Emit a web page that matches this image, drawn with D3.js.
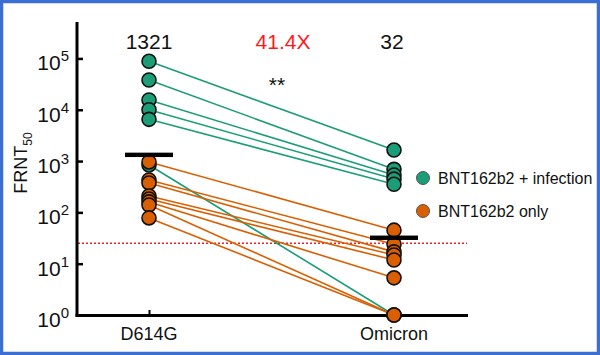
<!DOCTYPE html>
<html><head><meta charset="utf-8">
<script src="https://cdn.jsdelivr.net/npm/d3@7"></script>
<style>
html,body{margin:0;padding:0;background:#fff;}
svg{display:block;font-family:"Liberation Sans",Arial,sans-serif;}
</style></head>
<body><svg id="c" width="600" height="355"></svg>
<script>
const categories = ["D614G", "Omicron"];
const groups = ["BNT162b2 + infection", "BNT162b2 only"];
// paired titers (D614G -> Omicron)
const infD614G = [88000, 38000, 15500, 10000, 6500, 840];
const infOmicron = [1640, 690, 535, 445, 353, 1];
const onlyD614G = [960, 428, 374, 209, 182, 160, 139, 78];
const onlyOmicron = [45, 24, 17, 14.8, 11.8, 5.3, 1, 1];
const geoMeans = [1321, 32];
const foldText = "41.4X";
const lod = 25;
const yTicks = [1, 10, 100, 1000, 10000, 100000];

const colors = {"BNT162b2 + infection": "#1b9e77", "BNT162b2 only": "#d95f02"};
const svg = d3.select("#c");

svg.append("rect").attr("x",1.5).attr("y",1.5).attr("width",597).attr("height",352)
  .attr("fill","#fff").attr("stroke","#3b6fd4").attr("stroke-width",3.5);

const y = d3.scaleLog().domain([1, Math.pow(10,5.71)]).range([315, 22]);
const x = d3.scalePoint().domain(categories).range([149, 394]);

// red LOD line
svg.append("line").attr("x1",78).attr("x2",467).attr("y1",y(lod)).attr("y2",y(lod))
  .attr("stroke","#e8212b").attr("stroke-width",1.5).attr("stroke-dasharray","2,2");

// axes
const axL = svg.append("g").attr("transform","translate(77,0)")
  .call(d3.axisRight(y).tickValues(yTicks).tickSize(6).tickFormat(""));
axL.select(".domain").remove();
axL.selectAll(".tick line").attr("stroke","#000").attr("stroke-width",2.5);
svg.append("line").attr("x1",77).attr("x2",77).attr("y1",22).attr("y2",316.5)
  .attr("stroke","#000").attr("stroke-width",3);
svg.append("line").attr("x1",75.5).attr("x2",468).attr("y1",315.5).attr("y2",315.5)
  .attr("stroke","#000").attr("stroke-width",3);
const axB = svg.append("g").attr("transform","translate(0,315)")
  .call(d3.axisTop(x).tickSize(5).tickFormat(""));
axB.select(".domain").remove();
axB.selectAll(".tick line").attr("stroke","#000").attr("stroke-width",2);

// y tick labels with superscripts
yTicks.forEach(v => {
  const t = svg.append("text").attr("x",69).attr("y",y(v)+12)
    .attr("text-anchor","end").attr("font-size",21).attr("fill","#111");
  t.append("tspan").text("10");
  t.append("tspan").attr("dy",-9).attr("font-size",15).text(String(Math.round(Math.log10(v))));
});

// x labels
categories.forEach(c => {
  svg.append("text").attr("x",x(c)).attr("y",340).attr("text-anchor","middle")
    .attr("font-size",18).attr("fill","#111").text(c);
});

// y label
const yl = svg.append("text").attr("transform","translate(27,163) rotate(-90)")
  .attr("text-anchor","middle").attr("font-size",18).attr("fill","#111");
yl.append("tspan").text("FRNT");
yl.append("tspan").attr("font-size",12).attr("dy",5).text("50");

// lines
const pairs = [];
infD614G.forEach((v,i)=>pairs.push({g:groups[0],a:v,b:infOmicron[i]}));
onlyD614G.forEach((v,i)=>pairs.push({g:groups[1],a:v,b:onlyOmicron[i]}));
svg.append("g").selectAll("line").data(pairs).join("line")
  .attr("x1",x(categories[0])).attr("x2",x(categories[1]))
  .attr("y1",d=>y(d.a)).attr("y2",d=>y(d.b))
  .attr("stroke",d=>colors[d.g]).attr("stroke-width",1.6);

// points
const pts = [];
pairs.forEach(p=>{pts.push({g:p.g,c:categories[0],v:p.a});pts.push({g:p.g,c:categories[1],v:p.b});});
svg.append("g").selectAll("circle").data(pts).join("circle")
  .attr("cx",d=>x(d.c)).attr("cy",d=>y(d.v)).attr("r",7)
  .attr("fill",d=>colors[d.g]).attr("stroke","#111").attr("stroke-width",1.6);

// geometric mean bars
geoMeans.forEach((m,i)=>{
  svg.append("rect").attr("x",x(categories[i])-24).attr("y",y(m)-2.2)
    .attr("width",48).attr("height",4.4).attr("fill","#000");
});

// top annotations
svg.append("text").attr("x",x(categories[0])).attr("y",49).attr("text-anchor","middle")
  .attr("font-size",21).attr("fill","#111").text(String(geoMeans[0]));
svg.append("text").attr("x",x(categories[1])-2).attr("y",49).attr("text-anchor","middle")
  .attr("font-size",21).attr("fill","#111").text(String(geoMeans[1]));
svg.append("text").attr("x",283).attr("y",49).attr("text-anchor","middle")
  .attr("font-size",21).attr("fill","#ff1a1a").text(foldText);
svg.append("text").attr("x",277).attr("y",92).attr("text-anchor","middle")
  .attr("font-size",21).attr("fill","#111").text("**");

// legend
groups.forEach((g,i)=>{
  const ly = 178 + i*33;
  svg.append("circle").attr("cx",423).attr("cy",ly).attr("r",6.5)
    .attr("fill",colors[g]).attr("stroke","#555").attr("stroke-width",1);
  svg.append("text").attr("x",438).attr("y",ly+6).attr("font-size",16)
    .attr("fill","#111").text(g);
});
</script></body></html>
